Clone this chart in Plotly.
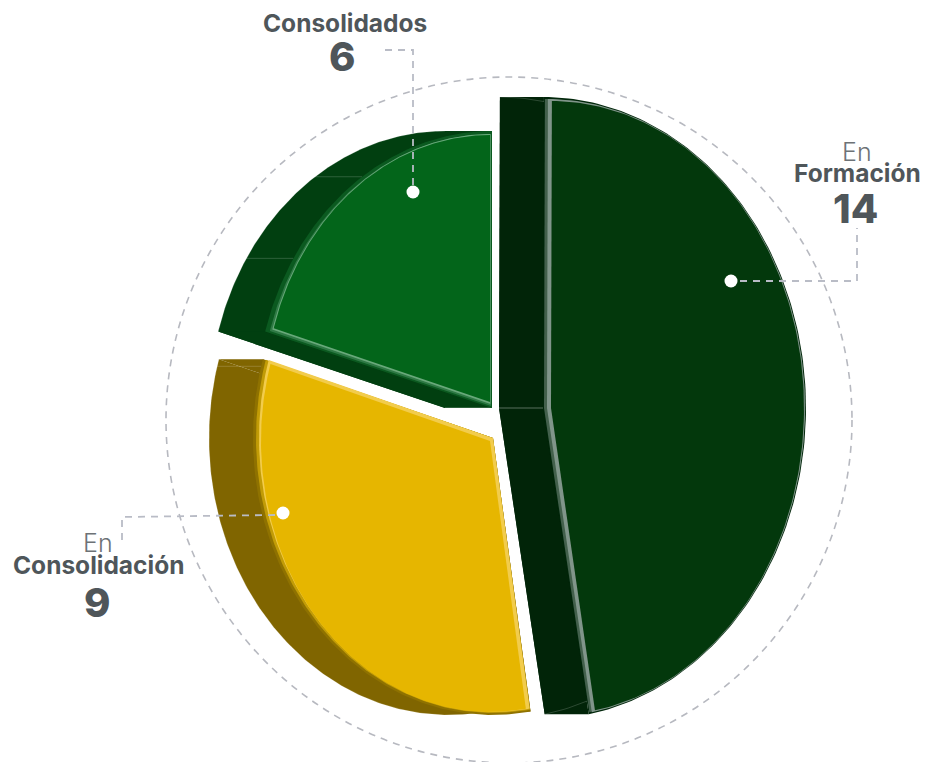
import numpy as np
import plotly.graph_objects as go

# --- data ---
categories = ["En Formación", "En Consolidación", "Consolidados"]
label_top = ["En", "En", ""]
label_bold = ["Formación", "Consolidación", "Consolidados"]
values = [14, 9, 6]

# --- geometry / style (per slice) ---
start_trim = [0.2, -2.8, 0.5]
end_trim = [3.8, -1.0, 0.0]
center = [(543, 408), (493, 438), (492, 408)]
radii = [(263, 311), (240, 277), (236, 277)]
depth = [44, 44, 47]
side_col = ["#012408", "#806500", "#013f10"]
rim_col = ["#01260a", "#8f7200", "#0b5a20"]
# inset layers: (dx, dy, drx, dry), colour
layers = [
    [((1, 0, 2, 2), "#43604c"), ((4, 0, 5, 2), "#80958a"), ((8, 0, 10, 4), "#03380c")],
    [((0, 0, 3, 2), "#c29c06"), ((0, 0, 6, 3), "#f2cc4c"), ((-3, 3, 11, 6), "#e6b600")],
    [((-1, -2, 6, 5), "#2f7a45"), ((-1.5, -4, 9, 7), "#69a97b"), ((-2, -6, 11, 10), "#03651a")],
]
side_lines = [[], [285.0], [326.6, 302.7]]

dots_x = [731, 283, 413]
dots_y = [281, 513, 192]
leaders_x = [[740, 857, 857], [275, 122, 122], [413, 413, 380]]
leaders_y = [[281, 281, 228], [515, 517, 540], [185, 50, 50]]
label_x = [857, 98, 345]
top_y = [152, 543, None]
bold_y = [173, 565, 23]
num_x = [855, 97, 342]
num_y = [208, 602, 56]

fig = go.Figure()


def poly(xs, ys, fill):
    fig.add_trace(go.Scatter(x=xs, y=ys, mode="lines", fill="toself", fillcolor=fill,
                             line=dict(width=0), hoverinfo="skip", showlegend=False))


def wedge(c, r, t0, t1):
    t = np.radians(np.linspace(t0, t1, 160))
    return (np.r_[c[0], c[0] + r[0] * np.sin(t), c[0]],
            np.r_[c[1], c[1] - r[1] * np.cos(t), c[1]])


def line(xs, ys, col, w=1, dash="solid"):
    fig.add_trace(go.Scatter(x=xs, y=ys, mode="lines", line=dict(color=col, width=w, dash=dash),
                             hoverinfo="skip", showlegend=False))


total = sum(values)
edges = np.cumsum([0] + values) / total * 360

for i in range(len(values) - 1, -1, -1):
    t0 = edges[i] + start_trim[i]
    t1 = edges[i + 1] - end_trim[i]
    c, r, d = center[i], radii[i], depth[i]
    x, y = wedge(c, r, t0, t1)
    # extruded side
    poly(x - d, y, side_col[i])
    for k in (1, len(x) - 2):
        poly([x[0] - d, x[k] - d, x[k], x[0]], [y[0], y[k], y[k], y[0]], side_col[i])
    line([x[0] - d, x[0]], [y[0], y[0]], "rgba(255,255,255,0.35)", 1)
    for tl in side_lines[i]:
        a = np.radians(tl)
        px, py = c[0] + r[0] * np.sin(a), c[1] - r[1] * np.cos(a)
        line([px - d, px], [py, py], "rgba(255,255,255,0.18)", 1)
    line(x[1:-1] - d, y[1:-1], "rgba(255,255,255,0.25)", 0.7)
    # rim, bevel and face
    poly(x, y, rim_col[i])
    for (dx, dy, drx, dry), col in layers[i]:
        xl, yl = wedge((c[0] + dx, c[1] + dy), (r[0] - drx, r[1] - dry), t0, t1)
        poly(xl, yl, col)

for lx, ly in zip(leaders_x, leaders_y):
    line(lx, ly, "#b9bcc6", 1.8, "7px,6px")
fig.add_trace(go.Scatter(x=dots_x, y=dots_y, mode="markers",
                         marker=dict(color="white", size=13, line=dict(width=0)),
                         hoverinfo="skip", showlegend=False))

FONT = "Inter, 'Open Sans', sans-serif"
DARK = "#4f565a"
ann = []
for i in range(len(values)):
    if label_top[i]:
        ann.append(dict(x=label_x[i], y=top_y[i], text=label_top[i], showarrow=False,
                        font=dict(family=FONT, size=25, color="#6d7276", weight=300)))
    ann.append(dict(x=label_x[i], y=bold_y[i], text=label_bold[i], showarrow=False,
                    font=dict(family=FONT, size=24.5, color=DARK, weight=700)))
    ann.append(dict(x=num_x[i], y=num_y[i], text=str(values[i]), showarrow=False,
                    font=dict(family=FONT, size=40, color=DARK, weight=800)))

fig.update_layout(
    width=926, height=762, margin=dict(l=0, r=0, t=0, b=0),
    paper_bgcolor="white", plot_bgcolor="white", showlegend=False,
    xaxis=dict(range=[0, 926], visible=False, fixedrange=True),
    yaxis=dict(range=[762, 0], visible=False, fixedrange=True),
    annotations=ann,
    shapes=[dict(type="circle", xref="x", yref="y", x0=166, x1=852, y0=77, y1=763, layer="below",
                 line=dict(color="#b7b9c0", width=1.6, dash="7px,6px"))],
)
fig.write_html("out.html", post_script="document.body.style.margin='0';",
               config=dict(displayModeBar=False))
